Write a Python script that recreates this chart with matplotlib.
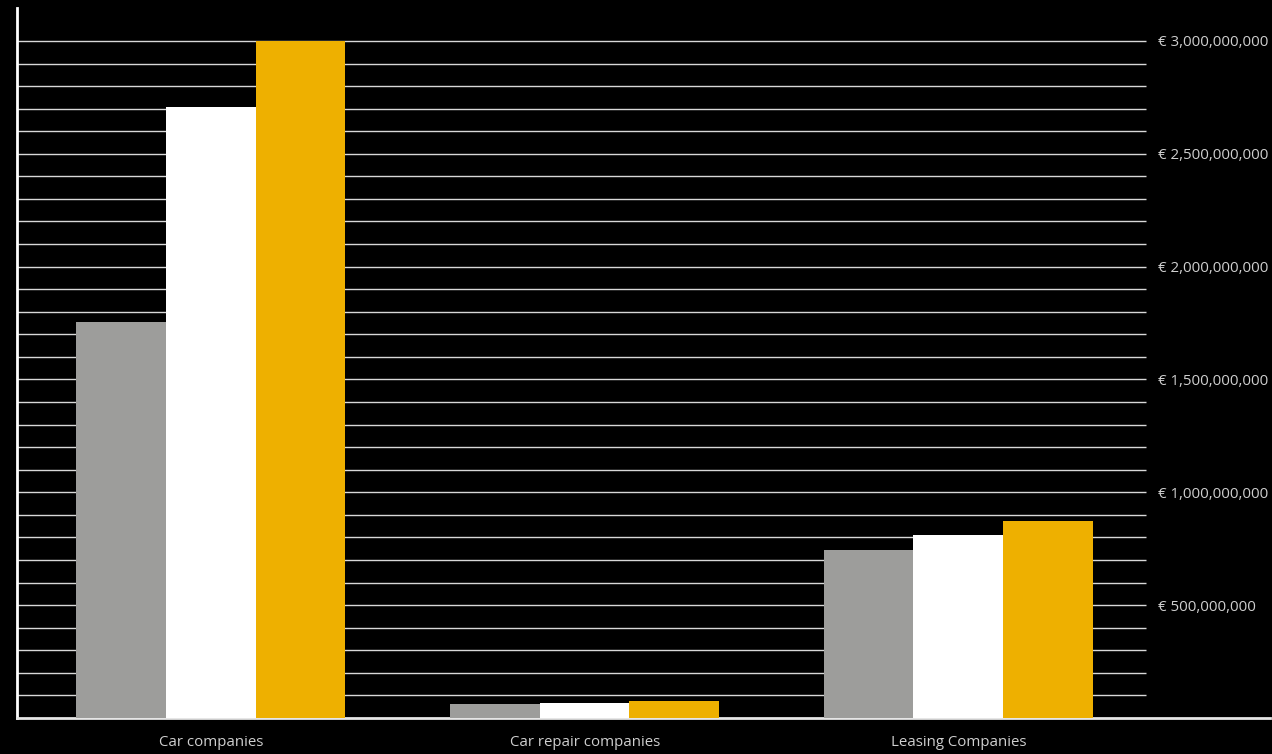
import matplotlib.pyplot as plt
import numpy as np

categories = ["Car companies", "Car repair companies", "Leasing Companies"]
series_grey = [1.755e9, 0.063e9, 0.744e9]
series_white = [2.707e9, 0.068e9, 0.811e9]
series_gold = [3.0e9, 0.075e9, 0.873e9]
label_ticks = [500e6, 1000e6, 1500e6, 2000e6, 2500e6, 3000e6]
grid_ticks = np.arange(1, 31) * 100e6

plt.rcParams['font.family'] = ['Open Sans', 'DejaVu Sans']

fig = plt.figure(figsize=(12.72, 7.54), dpi=100, facecolor='black')
W, H = 1272, 754
ax = fig.add_axes([17 / W, 36 / H, (1270 - 17) / W, (718 - 8) / H])
ax.set_facecolor('black')

x = np.arange(len(categories))
width = 0.24
ax.bar(x - width, series_grey, width, color='#9d9d9b', zorder=3)
ax.bar(x, series_white, width, color='#ffffff', zorder=3)
ax.bar(x + width, series_gold, width, color='#eeb000', zorder=3)

ax.set_xlim(-0.519, 2.834)
ax.set_ylim(0, 3.146e9)

# horizontal grid lines, stop before the right-hand labels
ax.hlines(grid_ticks, -0.519, 2.502, color='#d8d8d8', linewidth=1, zorder=1)

# euro labels on the right side
for v in label_ticks:
    ax.text(2.535, v, "€ {:,.0f}".format(v), color='#cfcfcf', fontsize=10.8,
            va='center_baseline', ha='left')

ax.set_yticks([])
ax.set_xticks(x)
ax.set_xticklabels(categories, color='#cfcfcf', fontsize=10.8)
ax.tick_params(axis='x', length=0, pad=12)

for s in ['top', 'right']:
    ax.spines[s].set_visible(False)
ax.spines['left'].set_color('white')
ax.spines['left'].set_linewidth(2)
ax.spines['bottom'].set_color('#e6e6e6')
ax.spines['bottom'].set_linewidth(2)

fig.savefig('out.png', dpi=100, facecolor='black')
